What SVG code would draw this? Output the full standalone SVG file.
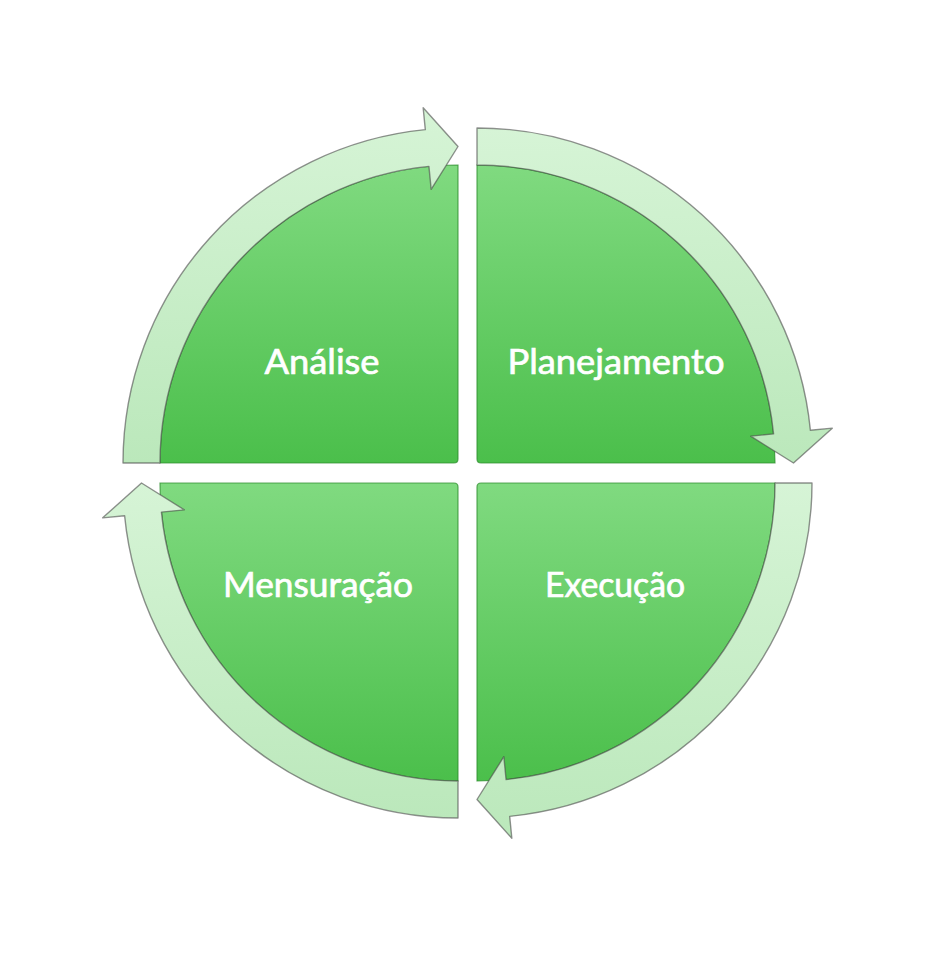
<svg xmlns="http://www.w3.org/2000/svg" width="952" height="962" viewBox="0 0 952 962">
  <defs>
    <linearGradient id="wedgeFill" x1="0" y1="0" x2="0" y2="1">
      <stop offset="0" stop-color="#80da80"/>
      <stop offset="1" stop-color="#4bbf4b"/>
    </linearGradient>
    <linearGradient id="arrowFill" x1="0" y1="0" x2="0" y2="1">
      <stop offset="0" stop-color="#d6f4d6"/>
      <stop offset="1" stop-color="#bbe8bb"/>
    </linearGradient>
    <style>
      .wedge { fill: url(#wedgeFill); stroke: #2f8f2f; stroke-opacity: 0.75; stroke-width: 1.2; }
      .arrow { fill: url(#arrowFill); stroke: #4a4a4a; stroke-opacity: 0.6; stroke-width: 1.4; stroke-linejoin: round; }
      .label { font-family: Lato, "Open Sans", "Liberation Sans", sans-serif; font-size: 35px; fill: #ffffff; stroke: #ffffff; stroke-width: 0.7; text-anchor: middle; }
    </style>
  </defs>

  <!-- quadrant wedges -->
  <g id="analise">
    <path class="wedge" d="M458,459 Q458,463 454,463 L160,463 A298,298 0 0 1 458,165 Z"/>
    <text class="label" x="322" y="374" textLength="115" lengthAdjust="spacingAndGlyphs">Análise</text>
  </g>
  <g id="planejamento">
    <path class="wedge" d="M477,459 L477,165 A298,298 0 0 1 775,463 L481,463 Q477,463 477,459 Z"/>
    <text class="label" x="616" y="374" textLength="217" lengthAdjust="spacingAndGlyphs">Planejamento</text>
  </g>
  <g id="execucao">
    <path class="wedge" d="M481,483 L775,483 A298,298 0 0 1 477,781 L477,487 Q477,483 481,483 Z"/>
    <text class="label" x="615" y="597" textLength="140" lengthAdjust="spacingAndGlyphs">Execução</text>
  </g>
  <g id="mensuracao">
    <path class="wedge" d="M458,487 L458,781 A298,298 0 0 1 160,483 L454,483 Q458,483 458,487 Z"/>
    <text class="label" x="318" y="597" textLength="190" lengthAdjust="spacingAndGlyphs">Mensuração</text>
  </g>

  <!-- curved arrows around the cycle -->
  <g id="connectors">
    <path class="arrow" d="M123,463 A335,335 0 0 1 425.31,129.60 L423.16,107.70 L458,146.5 L431.17,189.31 L428.92,166.42 A298,298 0 0 0 160,463 Z"/>
    <path class="arrow" d="M477,128 A335,335 0 0 1 810.40,430.31 L832.30,428.16 L793.5,463 L750.69,436.17 L773.58,433.92 A298,298 0 0 0 477,165 Z"/>
    <path class="arrow" d="M812,483 A335,335 0 0 1 509.69,816.40 L511.84,838.30 L477,799.5 L503.83,756.69 L506.08,779.58 A298,298 0 0 0 775,483 Z"/>
    <path class="arrow" d="M458,818 A335,335 0 0 1 124.60,515.69 L102.70,517.84 L141.5,483 L184.31,509.83 L161.42,512.08 A298,298 0 0 0 458,781 Z"/>
  </g>
</svg>
